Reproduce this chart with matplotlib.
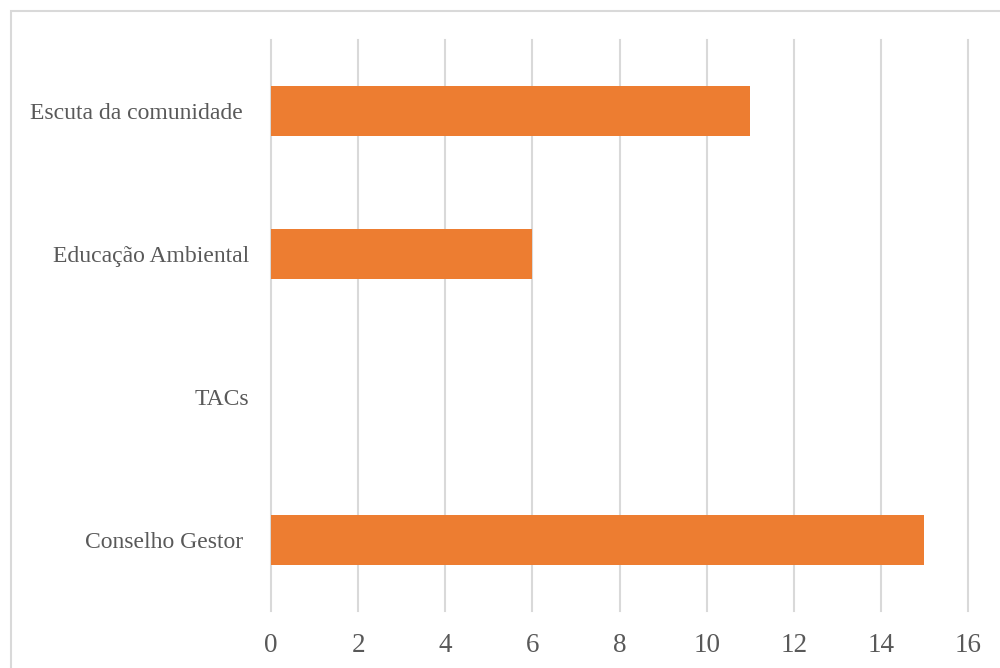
import matplotlib
matplotlib.use("Agg")
import matplotlib.pyplot as plt
from matplotlib.patches import Rectangle

# Categories listed top to bottom
categories = ["Escuta da comunidade ", "Educação Ambiental", "TACs", "Conselho Gestor "]
values = [11, 6, 0, 15]
x_ticks = [0, 2, 4, 6, 8, 10, 12, 14, 16]

bar_color = "#ED7D31"
grid_color = "#D9D9D9"
text_color = "#595959"

plt.rcParams['font.family'] = ['Liberation Serif', 'DejaVu Serif']

fig = plt.figure(figsize=(10, 6.68), dpi=100)

# light frame around the chart area
fig.patches.append(Rectangle((11 / 1000, -0.1), 1.2, 1 - 11 / 668 + 0.1,
                             transform=fig.transFigure, fill=False,
                             edgecolor="#D9D9D9", linewidth=1.5))

ax = fig.add_axes([0.271, 0.0853, 0.697, 0.8548])

y_pos = list(range(len(categories)))
ax.barh(y_pos, values, height=0.35, color=bar_color, zorder=3)

ax.set_xlim(0, 16)
ax.set_ylim(len(categories) - 0.5, -0.5)
ax.set_xticks(x_ticks)
ax.set_xticklabels([str(t) for t in x_ticks])
ax.set_yticks(y_pos)
ax.set_yticklabels(categories)

ax.grid(axis="x", color=grid_color, linewidth=1.5, zorder=0)
ax.set_axisbelow(True)
for line in ax.get_xgridlines():
    line.set_clip_on(False)
for s in ax.spines.values():
    s.set_visible(False)

ax.tick_params(axis="x", length=0, pad=16, labelsize=19.5, labelcolor=text_color)
ax.tick_params(axis="y", length=0, pad=16, labelsize=17, labelcolor=text_color)

fig.savefig("out.png", dpi=100)
